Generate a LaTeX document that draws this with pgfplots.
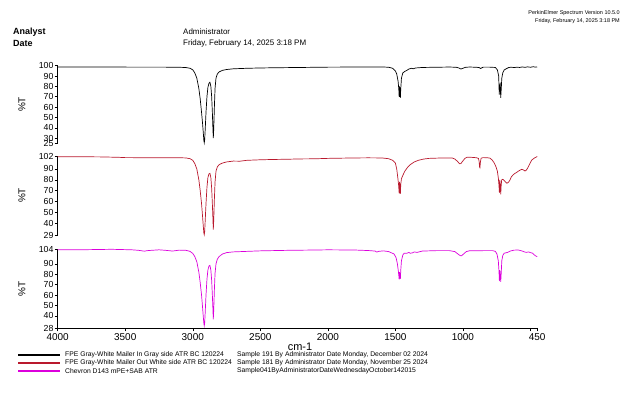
\documentclass[border=0pt]{standalone}
\usepackage{pgfplots}
\pgfplotsset{compat=1.18}
\usepackage{fontspec}
\setmainfont{Liberation Sans}
\definecolor{specred}{RGB}{185,25,45}
\definecolor{specmag}{RGB}{220,0,220}
\pgfplotsset{
  specax/.style={
    scale only axis, width=479.5bp, xmin=450, xmax=4000, x dir=reverse, clip=false,
    axis y line*=left, tick align=outside, major tick length=3bp,
    tick style={black, line width=0.5bp}, axis line style={black, line width=0.6bp, -},
    yticklabel style={font=\fontsize{8.8}{8.8}\selectfont, inner xsep=1bp},
    xticklabel style={font=\fontsize{10}{10}\selectfont, inner ysep=2bp},
    /pgf/number format/assume math mode=true,
    anchor=south west,
  }
}
\begin{document}
\begin{tikzpicture}
\path[use as bounding box] (0bp,0bp) rectangle (632bp,394bp);

% header
\node[anchor=west, inner sep=0, font=\fontsize{9}{9}\selectfont\bfseries] at (13bp,362bp) {Analyst};
\node[anchor=west, inner sep=0, font=\fontsize{9}{9}\selectfont\bfseries] at (13bp,351bp) {Date};
\node[anchor=west, inner sep=0, font=\fontsize{8}{8}\selectfont] at (183bp,362bp) {Administrator};
\node[anchor=west, inner sep=0, font=\fontsize{8}{8}\selectfont] at (183bp,351bp) {Friday, February 14, 2025 3:18 PM};
\node[anchor=east, inner sep=0, font=\fontsize{5.5}{5.5}\selectfont] at (620bp,381bp) {PerkinElmer Spectrum Version 10.5.0};
\node[anchor=east, inner sep=0, font=\fontsize{5.5}{5.5}\selectfont] at (620bp,373bp) {Friday, February 14, 2025 3:18 PM};

% panel 1
\begin{axis}[specax, at={(57.7bp,250.7bp)}, height=77.6bp, ymin=25, ymax=100,
  hide x axis, ytick={25,30,40,50,60,70,80,90,100}]
\addplot[black, line width=0.7bp] coordinates {
(4000,98.8) (3800,98.8) (3600,98.7) (3400,98.6) (3200,98.6) (3100,98.5) (3050,98.2) (3020,97.5)
(3000,96) (2985,93) (2970,88) (2955,78) (2945,68) (2935,55) (2928,45) (2922,35) (2918,28) (2915,25.5)
(2912,28) (2908,38) (2902,55) (2895,70) (2888,79) (2880,83) (2873,84) (2866,80) (2860,70) (2855,55)
(2851,40) (2848,30) (2845,38) (2840,60) (2835,78) (2828,88) (2818,92) (2805,94) (2780,95.5) (2750,96.3)
(2700,97) (2600,97.5) (2500,97.8) (2400,98) (2200,98.3) (2000,98.6) (1800,98.7) (1600,98.8) (1550,98.5)
(1520,97.5) (1500,95) (1490,92) (1480,85) (1475,78) (1472,70) (1469,80) (1466,75) (1463,69) (1460,78)
(1455,88) (1445,93) (1430,94.5) (1415,95.5) (1400,96.8) (1380,97.5) (1368,97) (1350,97.8) (1300,98.3)
(1200,98.5) (1100,98.7) (1050,98.5) (1030,97.8) (1015,96.8) (1000,97.5) (980,98.5) (950,98.7) (900,98.5)
(880,98.2) (870,97.3) (862,97.8) (850,98.6) (800,98.6) (760,98.3) (745,96) (735,90) (731,72) (728,80)
(724,82) (720,69) (716,78) (712,88) (705,93) (695,95.8) (680,97) (660,98.3) (640,98.5) (620,98.2)
(600,98.6) (580,98.3) (560,98.8) (540,98.4) (520,98.9) (500,98.5) (480,99) (460,98.6) (450,98.8)
};
\end{axis}

% panel 2
\begin{axis}[specax, at={(57.7bp,159bp)}, height=79bp, ymin=29, ymax=102,
  hide x axis, ytick={29,40,50,60,70,80,90,102}]
\addplot[specred, line width=0.7bp] coordinates {
(4000,101.3) (3700,101.2) (3550,100.8) (3500,100.5) (3300,100.4) (3100,100.4) (3050,100.2) (3020,99.5)
(3000,98) (2985,95) (2970,90) (2955,80) (2945,70) (2935,58) (2928,47) (2922,37) (2918,31) (2915,29.3)
(2912,32) (2908,42) (2902,58) (2895,73) (2888,82) (2880,85.5) (2873,86) (2866,82) (2860,72) (2855,58)
(2851,45) (2848,34) (2845,42) (2840,62) (2835,78) (2828,88) (2818,92) (2805,94) (2780,95.5) (2750,96.5)
(2700,97.3) (2650,97.2) (2600,98) (2500,98.5) (2400,98.8) (2300,99) (2200,99.3) (2100,99.4) (2000,99.8)
(1900,100) (1800,100.2) (1700,100.3) (1600,100.2) (1550,99.5) (1520,98) (1500,95.5) (1490,90) (1482,82)
(1476,75) (1472,67.5) (1469,78) (1466,72) (1463,67) (1460,76) (1455,81) (1445,84) (1430,88) (1410,91.5)
(1390,94) (1360,96.5) (1330,98) (1290,99.2) (1250,99.8) (1150,100.2) (1080,100.2) (1060,99.2) (1040,97)
(1025,94.8) (1015,95) (1000,97.5) (985,99.8) (970,100.8) (950,100.9) (920,100.6) (900,100.4) (885,99.8)
(880,97) (877,92) (874,91.2) (870,97) (865,100) (850,100.5) (820,100.4) (800,100) (785,98.5) (770,96)
(755,92) (745,88) (738,82) (733,75) (730,68) (727,80) (724,76) (720,66.5) (717,74) (713,80) (705,80.5)
(695,79.5) (685,78) (675,76.8) (665,77.5) (655,79) (640,83) (625,85) (614,86) (600,87) (590,88)
(575,89) (564,89.7) (550,89) (540,88.1) (530,89) (520,91) (510,93.5) (500,96) (490,98.3) (470,100.2)
(460,100.8) (450,101.5)
};
\end{axis}

% panel 3
\begin{axis}[specax, at={(57.7bp,65.7bp)}, height=79bp, ymin=28, ymax=104,
  axis x line*=bottom, ytick={28,40,50,60,70,80,90,104},
  xtick={4000,3500,3000,2500,2000,1500,1000,500,450},
  xticklabels={4000,3500,3000,2500,2000,1500,1000,,450}]
\addplot[specmag, line width=0.7bp] coordinates {
(4000,103.5) (3800,103.6) (3600,104) (3450,103.5) (3400,103) (3360,102.2) (3330,102.8) (3250,103.5)
(3200,103) (3150,102.3) (3100,103.2) (3050,103) (3020,102) (3000,100) (2985,97) (2970,92) (2955,82)
(2945,72) (2935,60) (2928,49) (2922,39) (2918,33) (2915,30.5) (2912,33) (2908,43) (2902,60) (2895,75)
(2888,84) (2880,88) (2873,88.5) (2866,84) (2860,74) (2855,60) (2851,47) (2848,36.5) (2845,45) (2840,65)
(2835,81) (2828,90) (2818,94.5) (2805,97) (2780,99.5) (2750,100.8) (2700,101.5) (2600,102) (2500,102.5)
(2300,103) (2100,103.3) (2000,103.5) (1800,103.3) (1700,102.8) (1650,102.3) (1638,101.3) (1625,102)
(1589,102.5) (1550,101.8) (1510,99.5) (1495,96) (1485,90) (1478,83) (1474,78) (1472,75) (1469,82)
(1466,79) (1463,75.5) (1460,84) (1455,93) (1445,98.5) (1435,100.2) (1415,100.2) (1400,101) (1390,100.2)
(1375,100.5) (1360,101.5) (1340,101) (1300,102.3) (1200,102.7) (1100,102.7) (1060,101.8) (1040,99.8)
(1020,97.9) (1010,97.8) (995,99.5) (975,101.8) (950,102.6) (850,102.7) (780,102.7) (760,102) (748,99.5)
(738,93) (733,83) (730,73.5) (727,84) (724,80) (720,72.8) (716,82) (712,93) (705,98) (695,100.2)
(670,101) (650,102.3) (620,103.2) (590,103.3) (565,102.5) (545,101.5) (530,101) (515,101.5) (500,100.8)
(485,100.3) (470,98.5) (460,97.5) (450,97)
};
\end{axis}

% y labels
\node[rotate=90, font=\fontsize{10}{10}\selectfont] at (22bp,289.5bp) {\%T};
\node[rotate=90, font=\fontsize{10}{10}\selectfont] at (22bp,198.5bp) {\%T};
\node[rotate=90, font=\fontsize{10}{10}\selectfont] at (22bp,105.2bp) {\%T};
% x label
\node[inner sep=0, font=\fontsize{11}{11}\selectfont] at (300bp,47.5bp) {cm-1};

% legend
\draw[black, line width=1.4bp] (18bp,39bp) -- (60bp,39bp);
\draw[specred, line width=1.4bp] (18bp,31bp) -- (60bp,31bp);
\draw[specmag, line width=1.4bp] (18bp,23bp) -- (60bp,23bp);
\node[anchor=west, inner sep=0, font=\fontsize{6.8}{6.8}\selectfont] at (65bp,39bp) {FPE Gray-White Mailer In Gray side ATR BC 120224};
\node[anchor=west, inner sep=0, font=\fontsize{6.8}{6.8}\selectfont] at (65bp,31bp) {FPE Gray-White Mailer Out White side ATR BC 120224};
\node[anchor=west, inner sep=0, font=\fontsize{6.8}{6.8}\selectfont] at (65bp,23bp) {Chevron D143 mPE+SAB ATR};
\node[anchor=west, inner sep=0, font=\fontsize{6.8}{6.8}\selectfont] at (237bp,39bp) {Sample 191 By Administrator Date Monday, December 02 2024};
\node[anchor=west, inner sep=0, font=\fontsize{6.8}{6.8}\selectfont] at (237bp,31bp) {Sample 181 By Administrator Date Monday, November 25 2024};
\node[anchor=west, inner sep=0, font=\fontsize{6.8}{6.8}\selectfont] at (237bp,23bp) {Sample041ByAdministratorDateWednesdayOctober142015};
\end{tikzpicture}
\end{document}
